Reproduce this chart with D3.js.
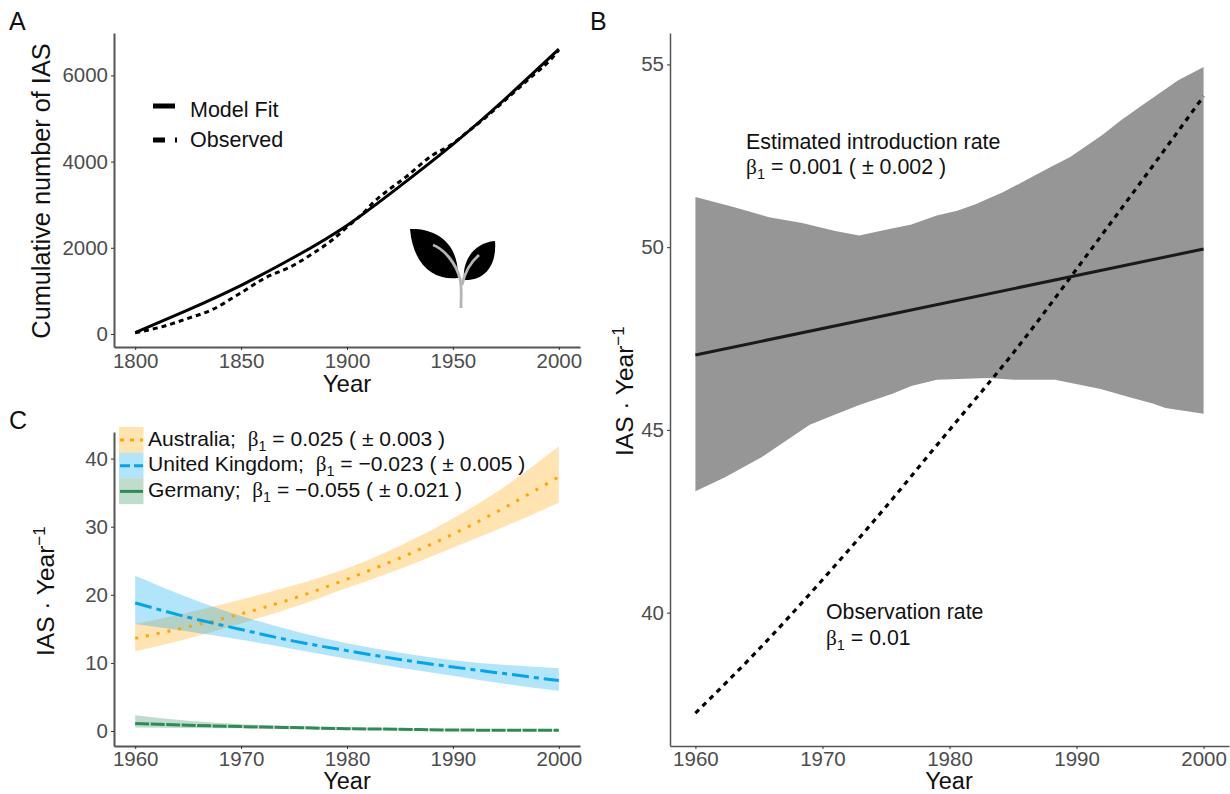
<!DOCTYPE html>
<html>
<head>
<meta charset="utf-8">
<script src="https://cdn.jsdelivr.net/npm/d3@7"></script>
<style>
  html, body { margin: 0; background: #fff; }
  text { font-family: "Liberation Sans", Arial, sans-serif; }
  .axis text { fill: #4d4d4d; font-size: 20.5px; }
  .axis line { stroke: #333; }
  .axis path { stroke: #555; }
</style>
</head>
<body>
<svg id="chart" width="1230" height="794"></svg>
<script>
// Panel A
const fitYears = [1800, 1825, 1850, 1875, 1900, 1925, 1950, 1975, 2000]
const fitValues = [30, 560, 1130, 1780, 2520, 3430, 4400, 5470, 6610]
const obsYears = [1800, 1811, 1825, 1836, 1849, 1861, 1875, 1884, 1893, 1900, 1908, 1912, 1920, 1928, 1940, 1949, 1957, 1965, 1973, 1988, 1996, 2000]
const obsValues = [30, 146, 364, 557, 928, 1292, 1601, 1872, 2181, 2480, 2820, 3032, 3357, 3650, 4137, 4385, 4694, 5005, 5352, 6009, 6357, 6590]

// Panel C
const rateYears = [1960, 1965, 1970, 1975, 1980, 1985, 1990, 1995, 2000]
const ausMid = [13.6, 15.3, 17.2, 19.5, 22.3, 25.4, 28.9, 32.9, 37.3]
const ausHigh = [15.7, 17.4, 19.3, 21.4, 23.9, 27.2, 31.2, 36, 41.8]
const ausLow = [11.7, 13.6, 15.8, 18.2, 21, 23.8, 26.9, 30.1, 33.5]
const ukMid = [18.8, 16.7, 14.9, 13.2, 11.8, 10.5, 9.4, 8.4, 7.4]
const ukHigh = [22.8, 19.6, 16.9, 14.7, 12.9, 11.5, 10.4, 9.7, 9.2]
const ukLow = [15.7, 14.6, 13.4, 12, 10.6, 9.3, 8.1, 6.9, 5.9]
const deMid = [1.1, 0.85, 0.65, 0.5, 0.35, 0.25, 0.15, 0.12, 0.1]
const deHigh = [2.3, 1.5, 1.0, 0.75, 0.55, 0.4, 0.3, 0.25, 0.2]
const deLow = [0.5, 0.45, 0.4, 0.3, 0.2, 0.12, 0.08, 0.06, 0.05]

// Panel B
const estYears = [1960, 2000]
const estValues = [47.05, 49.95]
const obsRate = [37.25, 39.0, 40.9, 42.9, 45.0, 47.1, 49.4, 51.75, 54.13]
const upperYears = [1960, 1963, 1965.8, 1968.4, 1971, 1972.9, 1974.8, 1977, 1979, 1980.6, 1982, 1984.2, 1986, 1988, 1989.5, 1992, 1993.5, 1995, 1998, 2000]
const upperValues = [51.37, 51.1, 50.82, 50.66, 50.44, 50.32, 50.46, 50.62, 50.87, 51.0, 51.17, 51.5, 51.83, 52.2, 52.47, 53.06, 53.47, 53.84, 54.57, 54.93]
const lowerYears = [1960, 1962.3, 1965.2, 1967.1, 1969, 1971, 1972.9, 1975.5, 1977, 1979, 1983, 1985.1, 1988.3, 1991.9, 1994.1, 1996, 1997, 2000]
const lowerValues = [43.32, 43.7, 44.25, 44.7, 45.14, 45.42, 45.68, 45.99, 46.2, 46.37, 46.42, 46.37, 46.37, 46.12, 45.9, 45.72, 45.6, 45.44]

// Axis ticks
const ticksAX = [1800, 1850, 1900, 1950, 2000]
const ticksAY = [0, 2000, 4000, 6000]
const ticksRateX = [1960, 1970, 1980, 1990, 2000]
const ticksBY = [40, 45, 50, 55]
const ticksCY = [0, 10, 20, 30, 40]

const colAus = '#ffa500'
const colUk = '#00a5ef'
const colDe = '#2e8b57'

const svg = d3.select('#chart')

const zip = (xs, ys) => xs.map((x, i) => [x, ys[i]])

const drawAxes = (x, y, xTicks, yTicks, bottom, left, width, pad) => {
  const ax = svg.append('g')
    .classed('axis', true)
    .attr('transform', `translate(0,${bottom})`)
    .call(d3.axisBottom(x).tickValues(xTicks).tickFormat(d3.format('d')).tickSize(3).tickSizeOuter(0).tickPadding(pad))
  const ay = svg.append('g')
    .classed('axis', true)
    .attr('transform', `translate(${left},0)`)
    .call(d3.axisLeft(y).tickValues(yTicks).tickFormat(d3.format('d')).tickSize(3).tickSizeOuter(0).tickPadding(3))
  ax.select('.domain').attr('stroke-width', width)
  ay.select('.domain').attr('stroke-width', width)
}

const addLine = (pts, x, y, stroke, width, dash, curve) => {
  svg.append('path')
    .datum(pts)
    .attr('fill', 'none')
    .attr('stroke', stroke)
    .attr('stroke-width', width)
    .attr('stroke-dasharray', dash)
    .attr('d', d3.line().x(d => x(d[0])).y(d => y(d[1])).curve(curve || d3.curveLinear))
}

const addBand = (years, lo, hi, x, y, fill) => {
  svg.append('path')
    .datum(years.map((yr, i) => ({ yr, lo: lo[i], hi: hi[i] })))
    .attr('fill', fill)
    .attr('fill-opacity', 0.3)
    .attr('d', d3.area().x(d => x(d.yr)).y0(d => y(d.lo)).y1(d => y(d.hi)).curve(d3.curveNatural))
}

const addText = (str, px, py, size, rotate) => {
  return svg.append('text')
    .attr('transform', `translate(${px},${py})` + (rotate ? ` rotate(${rotate})` : ''))
    .attr('font-size', size)
    .attr('fill', '#111')
    .text(str)
}

// text like  "<before> b1 = <after>", drawn with a lowered subscript
const addBeta = (before, after, px, py, size) => {
  const t = svg.append('text')
    .attr('x', px)
    .attr('y', py)
    .attr('font-size', size)
    .attr('fill', '#111')
    .attr('xml:space', 'preserve')
  if (before) t.append('tspan').text(before)
  t.append('tspan').style('font-family', '"Liberation Serif"').text('β')
  t.append('tspan').attr('font-size', size * 0.68).attr('dy', 5).text('1')
  t.append('tspan').attr('dy', -5).text(' = ' + after)
}

// A
const xA = d3.scaleLinear().domain([1790, 2010]).range([114, 580])
const yA = d3.scaleLinear().domain([-302, 6984]).range([347, 33])
drawAxes(xA, yA, ticksAX, ticksAY, 347, 114, 2, 3.2)
addLine(zip(obsYears, obsValues), xA, yA, '#000', 3, '5 4', d3.curveMonotoneX)
addLine(zip(fitYears, fitValues), xA, yA, '#000', 3, null, d3.curveNatural)

svg.append('line').attr('x1', 153).attr('x2', 175).attr('y1', 106).attr('y2', 106).attr('stroke', '#000').attr('stroke-width', 5)
svg.append('line').attr('x1', 153).attr('x2', 177).attr('y1', 140).attr('y2', 140).attr('stroke', '#000').attr('stroke-width', 5).attr('stroke-dasharray', '12 10')
addText('Model Fit', 190, 117, 21.5)
addText('Observed', 190, 147, 21.5)

addText('Year', 347, 392, 24).attr('text-anchor', 'middle')
addText('Cumulative number of IAS', 50, 191, 25.3, -90).attr('text-anchor', 'middle')

// seedling icon
const plant = svg.append('g').attr('transform', 'translate(410,229)')
plant.append('path').attr('d', 'M0,0 C24,-1 49,12 48,49 C24,52 3,36 0,0 Z').attr('fill', '#000')
plant.append('path').attr('d', 'M85,12 C62,14 52,34 54,51 C75,52 87,36 85,12 Z').attr('fill', '#000')
plant.append('path').attr('d', 'M51,79 C51,65 52,58 50,50 C46,34 34,20 23,16 M52,56 C55,42 62,32 69,26')
  .attr('fill', 'none').attr('stroke', '#b5b5b5').attr('stroke-width', 2.8)

// C
const xC = d3.scaleLinear().domain([1958, 2002]).range([114, 580])
const yC = d3.scaleLinear().domain([-2.2, 43.9]).range([746, 432])
drawAxes(xC, yC, ticksRateX, ticksCY, 746, 114, 2, 2)
addBand(rateYears, ausLow, ausHigh, xC, yC, colAus)
addBand(rateYears, ukLow, ukHigh, xC, yC, colUk)
addBand(rateYears, deLow, deHigh, xC, yC, colDe)
addLine(zip(rateYears, ausMid), xC, yC, colAus, 3, '3 8', d3.curveNatural)
addLine(zip(rateYears, ukMid), xC, yC, colUk, 3, '17 5 5 5', d3.curveNatural)
addLine(zip(rateYears, deMid), xC, yC, colDe, 3, '14 1.5', d3.curveNatural)

const keys = [
  { col: colAus, dash: '4 6', label: 'Australia;  ', after: '0.025 ( ± 0.003 )' },
  { col: colUk, dash: '10 4', label: 'United Kingdom;  ', after: '−0.023 ( ± 0.005 )' },
  { col: colDe, dash: null, label: 'Germany;  ', after: '−0.055 ( ± 0.021 )' }
]
keys.forEach((k, i) => {
  const top = 427 + i * 25.7
  svg.append('rect').attr('x', 119).attr('y', top).attr('width', 24.5).attr('height', 25.7).attr('fill', k.col).attr('fill-opacity', 0.3)
  svg.append('line').attr('x1', 120).attr('x2', 143).attr('y1', top + 13).attr('y2', top + 13)
    .attr('stroke', k.col).attr('stroke-width', 3).attr('stroke-dasharray', k.dash)
  addBeta(k.label, k.after, 148, top + 18.5, 21.1)
})

addText('Year', 347, 789, 23.5).attr('text-anchor', 'middle')
const ylabC = addText('IAS · Year', 54, 656, 24.5, -90)
ylabC.append('tspan').attr('font-size', 17).attr('dy', -9).text('−1')

// B
const xB = d3.scaleLinear().domain([1958, 2002]).range([670, 1229])
const yB = d3.scaleLinear().domain([36.36, 55.86]).range([745.7, 33])
drawAxes(xB, yB, ticksRateX, ticksBY, 746, 670, 1.5, 2)
svg.append('path')
  .datum(zip(upperYears, upperValues).concat(zip(lowerYears, lowerValues).reverse()))
  .attr('fill', '#969696')
  .attr('d', d3.line().x(d => xB(d[0])).y(d => yB(d[1])))
addLine(zip(rateYears, obsRate), xB, yB, '#000', 3.2, '5 5', d3.curveNatural)
addLine(zip(estYears, estValues), xB, yB, '#1a1a1a', 3, null)

addText('Estimated introduction rate', 746, 148.5, 21.4)
addBeta('', '0.001 ( ± 0.002 )', 746, 174, 21.4)
addText('Observation rate', 826, 619, 21.3)
addBeta('', '0.01', 826, 645, 21.3)

addText('Year', 949, 789, 23.5).attr('text-anchor', 'middle')
const ylabB = addText('IAS · Year', 633, 456, 24.5, -90)
ylabB.append('tspan').attr('font-size', 17).attr('dy', -9).text('−1')

addText('A', 9, 30, 25)
addText('B', 590, 30, 25)
addText('C', 9, 429, 25)
</script>
</body>
</html>
